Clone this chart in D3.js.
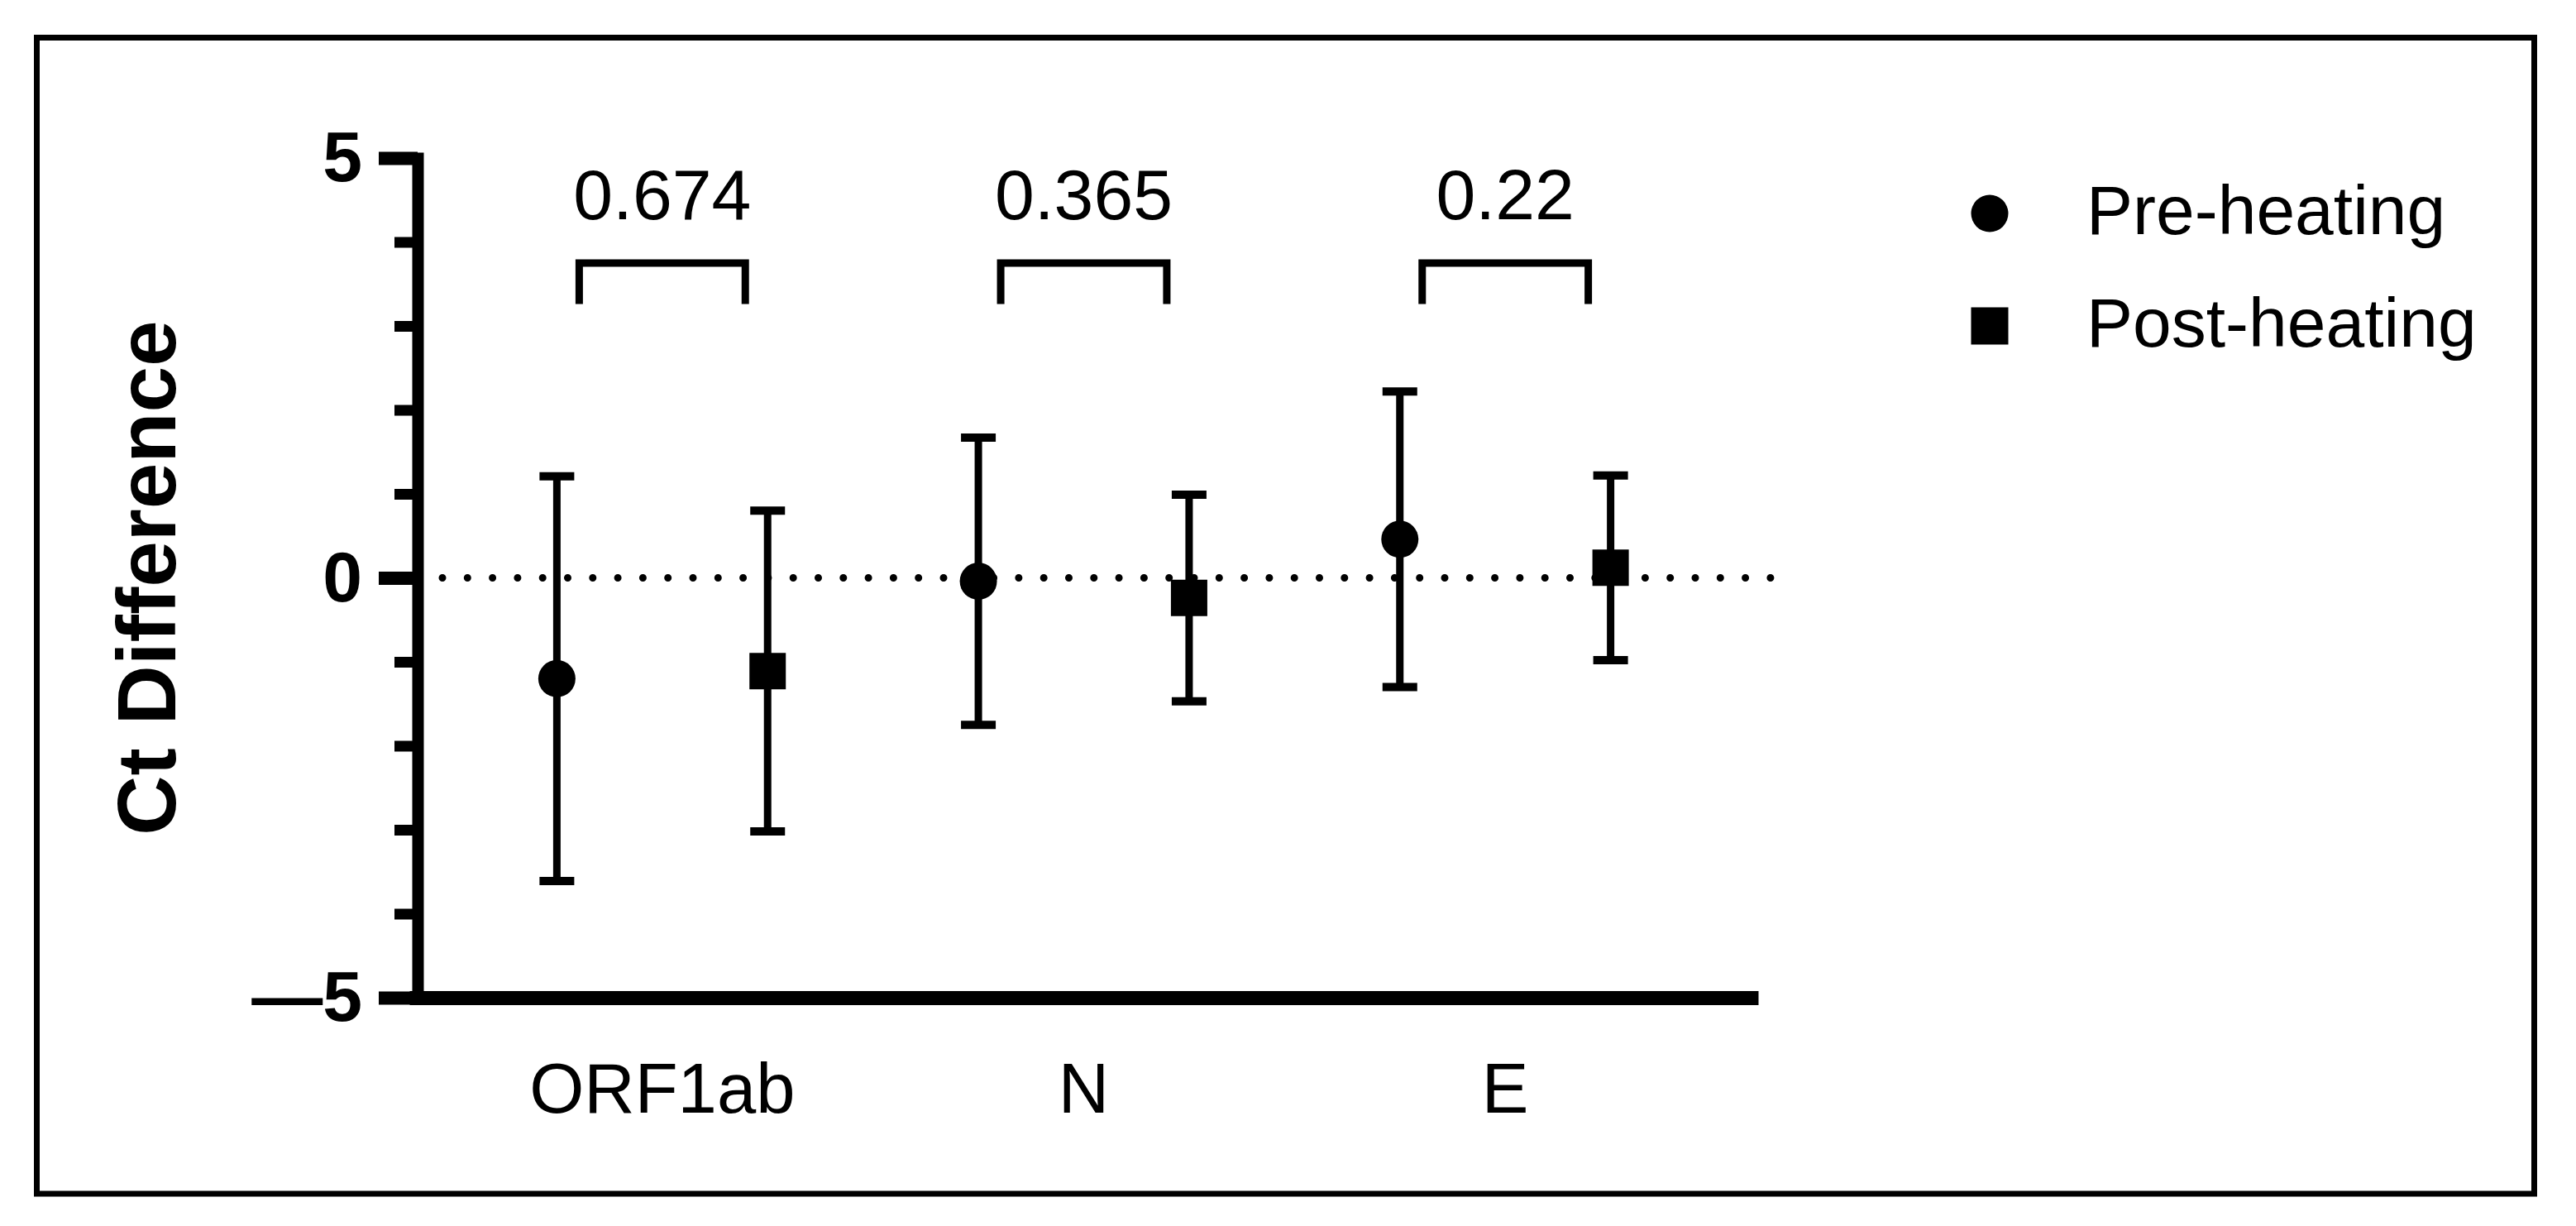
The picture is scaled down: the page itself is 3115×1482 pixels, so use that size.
<!DOCTYPE html>
<html lang="en">
<head>
  <meta charset="utf-8" />
  <script src="https://d3js.org/d3.v7.min.js"></script>
  <style>
    html, body { margin: 0; padding: 0; background: #fff; }
    text { font-family: "Liberation Sans", Arial, sans-serif; fill: #000; }
  </style>
</head>
<body>
  <svg id="canvas" width="3115" height="1482"></svg>

  <script>
  // data
  var genes = ["ORF1ab", "N", "E"];
  var series = ["Pre-heating", "Post-heating"];
  var preMean = [-1.20, -0.04, 0.46];
  var preSD = [2.41, 1.71, 1.76];
  var postMean = [-1.11, -0.24, 0.12];
  var postSD = [1.91, 1.23, 1.10];
  var pValues = ["0.674", "0.365", "0.22"];
  var yTicks = [-5, 0, 5];
  var yMinor = [-4, -3, -2, -1, 1, 2, 3, 4];

  var svg = d3.select("#canvas");

  // outer frame
  svg.append("rect")
    .attr("x", 44.5).attr("y", 45.5)
    .attr("width", 3020).attr("height", 1397.5)
    .attr("fill", "none").attr("stroke", "black").attr("stroke-width", 7);

  var axisX = 505;
  var y = d3.scaleLinear().domain([-5, 5]).range([1206, 191]);
  var xBand = d3.scaleBand().domain(genes).range([495, 2126]).paddingInner(0).paddingOuter(0.1);
  var xSeries = d3.scalePoint().domain(series).range([0, xBand.bandwidth()]).padding(0.5);

  // rows for the points
  var rows = [];
  genes.forEach(function(g, i) {
    rows.push({gene: g, s: series[0], mean: preMean[i], sd: preSD[i]});
    rows.push({gene: g, s: series[1], mean: postMean[i], sd: postSD[i]});
  });
  function px(d) { return xBand(d.gene) + xSeries(d.s); }

  // dotted zero line
  svg.append("line")
    .attr("x1", axisX + 30).attr("x2", 2152)
    .attr("y1", y(0)).attr("y2", y(0))
    .attr("stroke", "black").attr("stroke-width", 9)
    .attr("stroke-linecap", "round").attr("stroke-dasharray", "0 30.3");

  // x axis
  var gx = svg.append("g")
    .attr("transform", "translate(0," + y(-5) + ")")
    .call(d3.axisBottom(xBand).tickSize(0).tickPadding(79).tickSizeOuter(0));
  gx.select(".domain").attr("stroke-width", 17);
  gx.selectAll("text").style("font-size", "85px");

  // y axis minor ticks
  var gm = svg.append("g")
    .attr("transform", "translate(" + axisX + ",0)")
    .call(d3.axisLeft(y).tickValues(yMinor).tickSize(28).tickFormat(""));
  gm.select(".domain").remove();
  gm.selectAll(".tick line").attr("stroke-width", 13);

  // y axis major
  var gy = svg.append("g")
    .attr("transform", "translate(" + axisX + ",0)")
    .call(d3.axisLeft(y).tickValues(yTicks).tickSize(47).tickPadding(20).tickSizeOuter(0)
      .tickFormat(function(d) { return d < 0 ? "\u2014" + Math.abs(d) : d; }));
  gy.select(".domain").attr("stroke-width", 14).attr("stroke-linecap", "square");
  gy.selectAll(".tick line").attr("stroke-width", 16);
  gy.selectAll("text").style("font-size", "86px").style("font-weight", "bold");

  // y label
  svg.append("text")
    .attr("transform", "translate(212," + y(0) + ") rotate(-90)")
    .attr("text-anchor", "middle")
    .style("font-size", "100px").style("font-weight", "bold")
    .text("Ct Difference");

  // error bars
  var capW = 42;
  var eb = svg.append("g").attr("stroke", "black");
  eb.selectAll(".stem").data(rows).enter().append("line")
    .attr("x1", px).attr("x2", px)
    .attr("y1", function(d) { return y(d.mean + d.sd); })
    .attr("y2", function(d) { return y(d.mean - d.sd); })
    .attr("stroke-width", 9);
  eb.selectAll(".capTop").data(rows).enter().append("line")
    .attr("x1", function(d) { return px(d) - capW / 2; })
    .attr("x2", function(d) { return px(d) + capW / 2; })
    .attr("y1", function(d) { return y(d.mean + d.sd); })
    .attr("y2", function(d) { return y(d.mean + d.sd); })
    .attr("stroke-width", 10);
  eb.selectAll(".capBot").data(rows).enter().append("line")
    .attr("x1", function(d) { return px(d) - capW / 2; })
    .attr("x2", function(d) { return px(d) + capW / 2; })
    .attr("y1", function(d) { return y(d.mean - d.sd); })
    .attr("y2", function(d) { return y(d.mean - d.sd); })
    .attr("stroke-width", 10);

  // markers
  var shape = d3.scaleOrdinal().domain(series).range([d3.symbolCircle, d3.symbolSquare]);
  var symSize = d3.scaleOrdinal().domain(series).range([Math.PI * 22.5 * 22.5, 44 * 44]);
  svg.selectAll(".pt").data(rows).enter().append("path")
    .attr("transform", function(d) { return "translate(" + px(d) + "," + y(d.mean) + ")"; })
    .attr("d", function(d) { return d3.symbol().type(shape(d.s)).size(symSize(d.s))(); })
    .attr("fill", "black");

  // comparison brackets
  var inset = 27;
  var br = svg.selectAll(".br").data(genes).enter().append("g");
  br.append("path")
    .attr("d", function(g) {
      var x1 = xBand(g) + xSeries(series[0]) + inset;
      var x2 = xBand(g) + xSeries(series[1]) - inset;
      return "M" + x1 + "," + y(3.26) + "V" + y(3.75) + "H" + x2 + "V" + y(3.26);
    })
    .attr("fill", "none").attr("stroke", "black").attr("stroke-width", 9);
  br.append("text")
    .attr("x", function(g) { return xBand(g) + xBand.bandwidth() / 2; })
    .attr("y", y(3.75) - 53)
    .attr("text-anchor", "middle")
    .style("font-size", "86px")
    .text(function(g, i) { return pValues[i]; });

  // legend
  var leg = svg.selectAll(".leg").data(series).enter().append("g")
    .attr("transform", function(d, i) { return "translate(2406," + (258 + i * 136) + ")"; });
  leg.append("path")
    .attr("d", function(d, i) {
      return d3.symbol().type(shape(d)).size(i === 0 ? Math.PI * 22.5 * 22.5 : 45 * 45)();
    })
    .attr("fill", "black");
  leg.append("text")
    .attr("x", 117).attr("y", 25)
    .style("font-size", "84px")
    .text(function(d) { return d; });
  </script>
</body>
</html>
